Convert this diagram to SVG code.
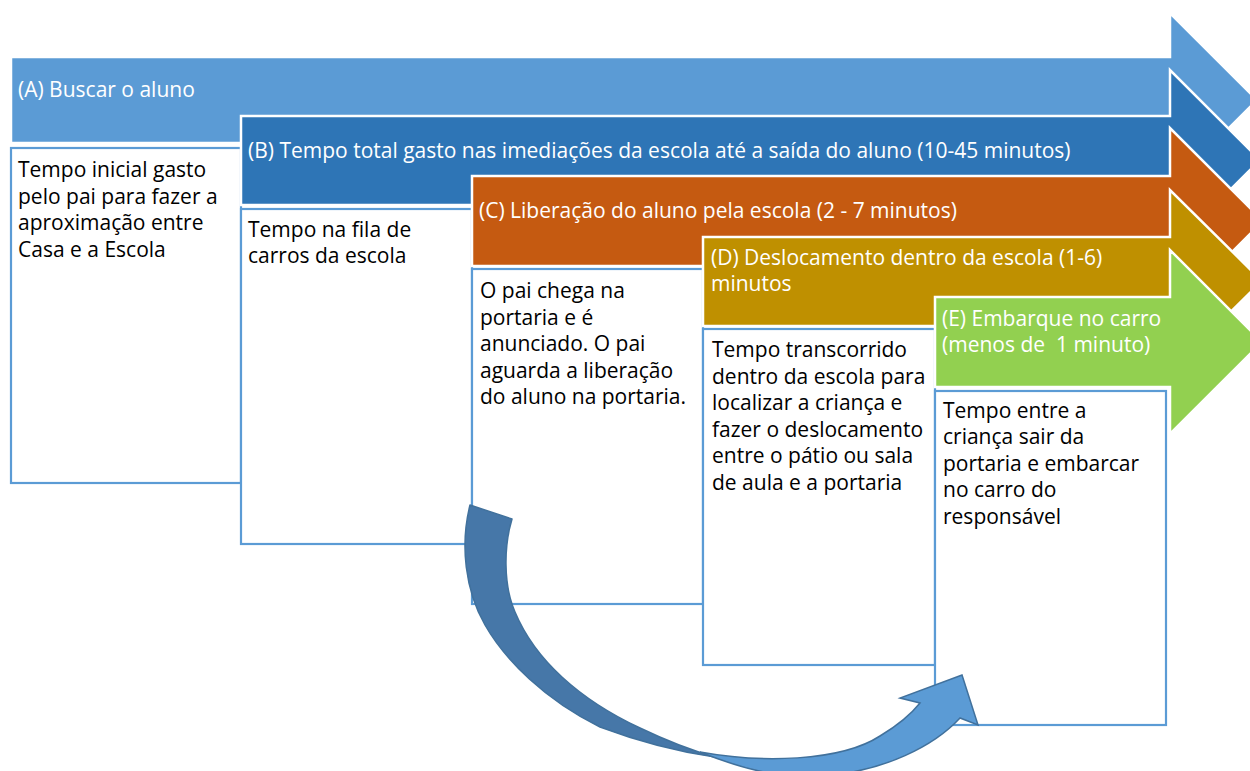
<svg xmlns="http://www.w3.org/2000/svg" width="1250" height="771" viewBox="0 0 1250 771">
<style>
.arr{stroke:#ffffff;stroke-width:2.5;stroke-linejoin:miter}
.box{fill:#ffffff;stroke:#5B9BD5;stroke-width:2.2}
.hd{font-family:"Open Sans","Liberation Sans",sans-serif;font-size:21px;fill:#ffffff}
.tx{font-family:"Open Sans","Liberation Sans",sans-serif;font-size:21px;fill:#000000}
</style>
<rect width="1250" height="771" fill="#ffffff"/>
<g id="stepA">
<polygon class="arr" fill="#5B9BD5" points="11,57 1170,57 1170,13 1257,100 1170,187 1170,143 11,143"/>
<text class="hd" x="18" y="97">(A) Buscar o aluno</text>
<rect class="box" x="11" y="148" width="230" height="335"/>
<text class="tx" x="18" y="177">Tempo inicial gasto</text>
<text class="tx" x="18" y="204">pelo pai para fazer a</text>
<text class="tx" x="18" y="230">aproximação entre</text>
<text class="tx" x="18" y="257">Casa e a Escola</text>
</g>
<g id="stepB">
<polygon class="arr" fill="#2E75B6" points="241,116 1170,116 1170,70 1260,160 1170,250 1170,205 241,205"/>
<text class="hd" x="248" y="158">(B) Tempo total gasto nas imediações da escola até a saída do aluno (10-45 minutos)</text>
<rect class="box" x="241" y="209" width="231" height="335"/>
<text class="tx" x="248" y="237">Tempo na fila de</text>
<text class="tx" x="248" y="263">carros da escola</text>
</g>
<g id="stepC">
<polygon class="arr" fill="#C55A11" points="472,176 1170,176 1170,128 1263,221 1170,314 1170,266 472,266"/>
<text class="hd" x="479" y="218">(C) Liberação do aluno pela escola (2 - 7 minutos)</text>
<rect class="box" x="472" y="269" width="231" height="335"/>
<text class="tx" x="480" y="298">O pai chega na</text>
<text class="tx" x="480" y="325">portaria e é</text>
<text class="tx" x="480" y="351">anunciado. O pai</text>
<text class="tx" x="480" y="378">aguarda a liberação</text>
<text class="tx" x="480" y="404">do aluno na portaria.</text>
</g>
<g id="stepD">
<polygon class="arr" fill="#BF9000" points="703,237 1170,237 1170,190 1262,281 1170,372 1170,326 703,326"/>
<text class="hd" x="711" y="265">(D) Deslocamento dentro da escola (1-6)</text>
<text class="hd" x="711" y="291">minutos</text>
<rect class="box" x="703" y="329" width="232" height="336"/>
<text class="tx" x="712" y="357">Tempo transcorrido</text>
<text class="tx" x="712" y="384">dentro da escola para</text>
<text class="tx" x="712" y="410">localizar a criança e</text>
<text class="tx" x="712" y="437">fazer o deslocamento</text>
<text class="tx" x="712" y="463">entre o pátio ou sala</text>
<text class="tx" x="712" y="490">de aula e a portaria</text>
</g>
<g id="stepE">
<polygon class="arr" fill="#92D050" points="935,297 1170,297 1170,250 1262,342 1170,434 1170,387 935,387"/>
<text class="hd" x="942" y="326">(E) Embarque no carro</text>
<text class="hd" x="942" y="352" xml:space="preserve">(menos de  1 minuto)</text>
<rect class="box" x="935" y="391" width="231" height="334"/>
<text class="tx" x="943" y="418">Tempo entre a</text>
<text class="tx" x="943" y="444">criança sair da</text>
<text class="tx" x="943" y="471">portaria e embarcar</text>
<text class="tx" x="943" y="497">no carro do</text>
<text class="tx" x="943" y="524">responsável</text>
</g>
<g id="connectors">
<path fill="#4677A8" stroke="#41719C" stroke-width="1.5" stroke-linejoin="round" d="M470,505 L512,519 C504,545 503,585 515,612 C535,660 580,700 640,728 C665,740 690,750 715,757 C680,752 640,742 600,727 C545,700 505,660 485,625 C465,590 460,545 470,505 Z"/>
<path fill="#5B9BD5" stroke="#41719C" stroke-width="1.5" stroke-linejoin="miter" d="M700,752 C760,763 840,762 880,736 C900,724 912,713 920,703 L900,698 L962,675 L978,725 L960,718 C935,745 885,772 820,776 C775,778 740,768 700,752 Z"/>
</g>
</svg>
